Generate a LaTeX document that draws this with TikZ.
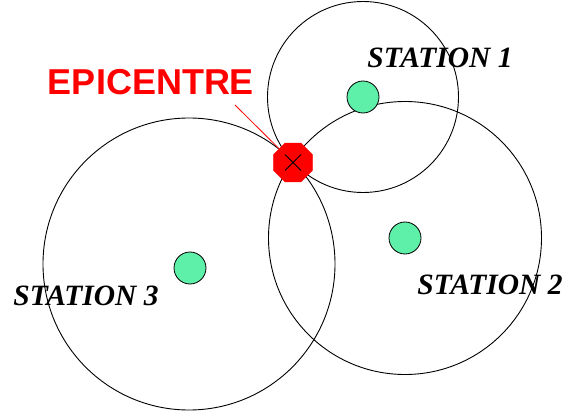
\documentclass[tikz,border=0pt]{standalone}
\usepackage{fontspec}
\setmainfont{Liberation Serif}
\newfontfamily\labsans{Liberation Sans}
\usetikzlibrary{shapes.geometric}
\definecolor{mint}{HTML}{5EF0A8}
\begin{document}
\begin{tikzpicture}[x=1pt,y=-1pt,
  rangecircle/.style={draw=black,line width=0.9pt},
  dot/.style={circle,draw=black,line width=0.8pt,fill=mint,minimum size=32pt,inner sep=0pt},
  stlabel/.style={font=\fontsize{29.5}{32}\selectfont\bfseries\itshape,inner sep=0pt},
  epi/.style={regular polygon,regular polygon sides=8,fill=red,draw=red,minimum size=42pt,inner sep=0pt}]
\useasboundingbox (0,0) rectangle (563,412);
\fill[white] (0,0) rectangle (563,412);
\coordinate (c1) at (363,97);
\coordinate (c2) at (405,238);
\coordinate (c3) at (189,264);
\draw[rangecircle] (c1) circle (95.5);
\draw[rangecircle] (c2) circle (136.5);
\draw[rangecircle] (c3) circle (146);
\node[dot] (d1) at (363,97) {};
\node[dot] (d2) at (405,238) {};
\node[dot] (d3) at (190,268) {};
\node[epi] (ep) at (293,162.5) {};
\draw[black,line width=0.8pt] ([shift={(-8,-8)}]ep.center) -- ([shift={(8,8)}]ep.center)
  ([shift={(8,-8)}]ep.center) -- ([shift={(-8,8)}]ep.center);
\node[text=red,font=\labsans\fontsize{36}{40}\selectfont\bfseries,inner sep=0pt] (epl) at (151,82) {EPICENTRE};
\coordinate (lp) at (235,105);
\draw[red,line width=0.8pt] (lp) -- (ep);
\node[stlabel] (s1) at (440,57.5) {STATION 1};
\node[stlabel] (s2) at (490,285) {STATION 2};
\node[stlabel] (s3) at (86,295.5) {STATION 3};
\end{tikzpicture}
\end{document}
